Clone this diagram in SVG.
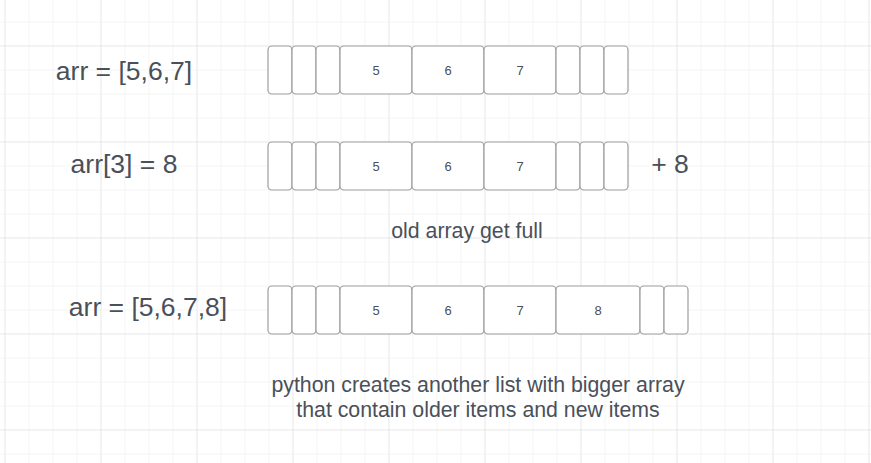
<svg xmlns="http://www.w3.org/2000/svg" width="871" height="463" viewBox="0 0 871 463">
<defs>
<pattern id="minor" x="4.5" y="21.5" width="24" height="24" patternUnits="userSpaceOnUse">
<path d="M0 0 H24 M0 0 V24" fill="none" stroke="#ececec" stroke-width="1"/>
</pattern>
<pattern id="major" x="4.5" y="45.5" width="96" height="96" patternUnits="userSpaceOnUse">
<path d="M0 0 H96 M0 0 V96" fill="none" stroke="#dedede" stroke-width="1"/>
</pattern>
</defs>
<style>
.cell{fill:#ffffff;stroke:#9d9da3;stroke-width:1.2}
.lbl{font-family:"Liberation Sans",Arial,sans-serif;fill:#4a505a}
.big{font-size:26.5px}
.mid{font-size:21.3px}
.num{font-size:13px;text-anchor:middle}
</style>
<rect width="871" height="463" fill="#ffffff"/>
<rect width="871" height="463" fill="url(#minor)"/>
<rect width="871" height="463" fill="url(#major)"/>

<g id="row1">
<rect class="cell" x="268" y="46" width="24" height="48" rx="4"/>
<rect class="cell" x="292" y="46" width="24" height="48" rx="4"/>
<rect class="cell" x="316" y="46" width="24" height="48" rx="4"/>
<rect class="cell" x="340" y="46" width="72" height="48" rx="4"/>
<rect class="cell" x="412" y="46" width="72" height="48" rx="4"/>
<rect class="cell" x="484" y="46" width="72" height="48" rx="4"/>
<rect class="cell" x="556" y="46" width="24" height="48" rx="4"/>
<rect class="cell" x="580" y="46" width="24" height="48" rx="4"/>
<rect class="cell" x="604" y="46" width="24" height="48" rx="4"/>
<text class="lbl num" x="376" y="75">5</text>
<text class="lbl num" x="448" y="75">6</text>
<text class="lbl num" x="520" y="75">7</text>
</g>

<g id="row2">
<rect class="cell" x="268" y="142" width="24" height="48" rx="4"/>
<rect class="cell" x="292" y="142" width="24" height="48" rx="4"/>
<rect class="cell" x="316" y="142" width="24" height="48" rx="4"/>
<rect class="cell" x="340" y="142" width="72" height="48" rx="4"/>
<rect class="cell" x="412" y="142" width="72" height="48" rx="4"/>
<rect class="cell" x="484" y="142" width="72" height="48" rx="4"/>
<rect class="cell" x="556" y="142" width="24" height="48" rx="4"/>
<rect class="cell" x="580" y="142" width="24" height="48" rx="4"/>
<rect class="cell" x="604" y="142" width="24" height="48" rx="4"/>
<text class="lbl num" x="376" y="170.5">5</text>
<text class="lbl num" x="448" y="170.5">6</text>
<text class="lbl num" x="520" y="170.5">7</text>
</g>

<g id="row3">
<rect class="cell" x="268" y="286" width="24" height="48" rx="4"/>
<rect class="cell" x="292" y="286" width="24" height="48" rx="4"/>
<rect class="cell" x="316" y="286" width="24" height="48" rx="4"/>
<rect class="cell" x="340" y="286" width="72" height="48" rx="4"/>
<rect class="cell" x="412" y="286" width="72" height="48" rx="4"/>
<rect class="cell" x="484" y="286" width="72" height="48" rx="4"/>
<rect class="cell" x="556" y="286" width="84" height="48" rx="4"/>
<rect class="cell" x="640" y="286" width="24" height="48" rx="4"/>
<rect class="cell" x="664" y="286" width="24" height="48" rx="4"/>
<text class="lbl num" x="376" y="314.5">5</text>
<text class="lbl num" x="448" y="314.5">6</text>
<text class="lbl num" x="520" y="314.5">7</text>
<text class="lbl num" x="598" y="314.5">8</text>
</g>

<g id="labels">
<text class="lbl big" x="124" y="80" text-anchor="middle">arr = [5,6,7]</text>
<text class="lbl big" x="124" y="173" text-anchor="middle">arr[3] = 8</text>
<text class="lbl big" x="670" y="173" text-anchor="middle">+ 8</text>
<text class="lbl big" x="148" y="316" text-anchor="middle">arr = [5,6,7,8]</text>
<text class="lbl mid" x="467" y="238" text-anchor="middle">old array get full</text>
<text class="lbl mid" x="478" y="392" text-anchor="middle">python creates another list with bigger array</text>
<text class="lbl mid" x="478" y="416.5" text-anchor="middle">that contain older items and new items</text>
</g>
</svg>
